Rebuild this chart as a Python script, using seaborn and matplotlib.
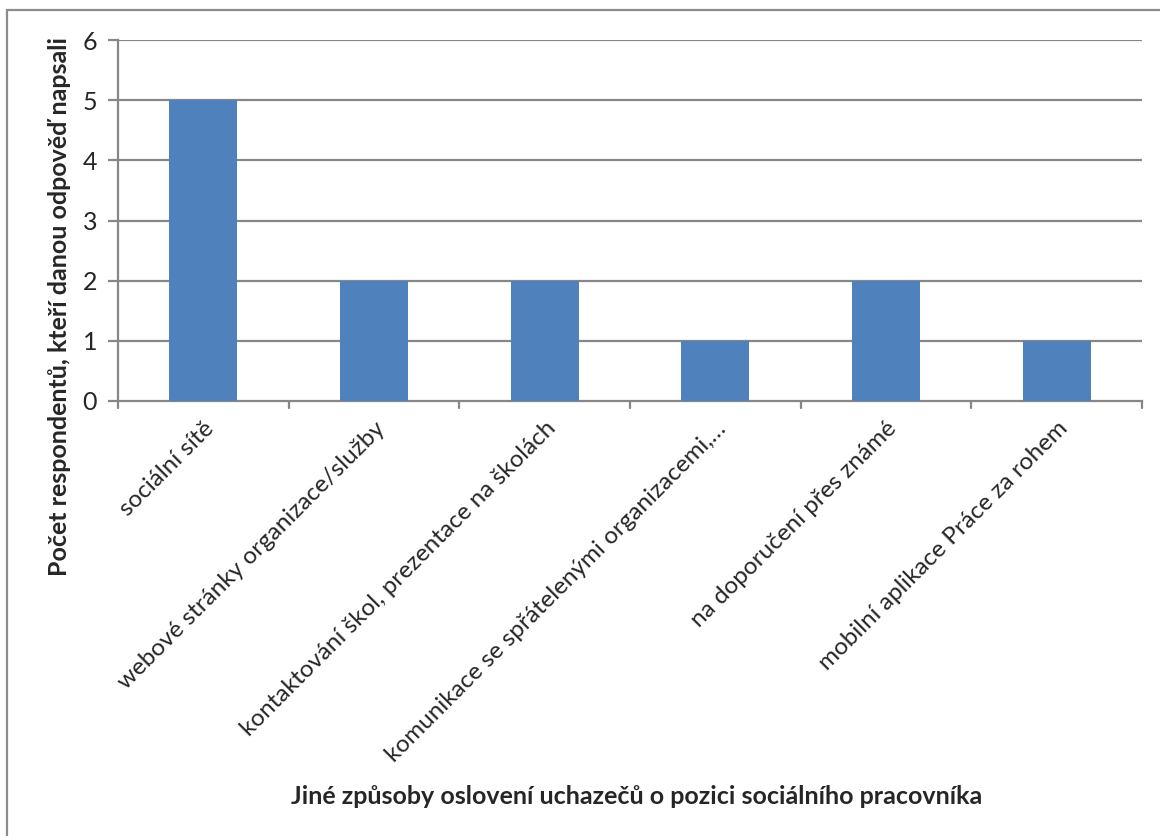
import matplotlib
matplotlib.use("Agg")
import matplotlib.pyplot as plt
from matplotlib.lines import Line2D
import seaborn as sns
import pandas as pd

categories = [
    "sociální sítě",
    "webové stránky organizace/služby",
    "kontaktování škol, prezentace na školách",
    "komunikace se spřátelenými organizacemi,…",
    "na doporučení přes známé",
    "mobilní aplikace Práce za rohem",
]
counts = [5, 2, 2, 1, 2, 1]
y_ticks = [0, 1, 2, 3, 4, 5, 6]

x_title = "Jiné způsoby oslovení uchazečů o pozici sociálního pracovníka"
y_title = "Počet respondentů, kteří danou odpověď napsali"

sns.set_style("white")
plt.rcParams["font.family"] = ["Lato", "DejaVu Sans"]

df = pd.DataFrame({"cat": categories, "n": counts})

W, H = 1160, 836
fig = plt.figure(figsize=(W / 100, H / 100), dpi=100)
ax = fig.add_axes([118 / W, 1 - 401 / H, (1142 - 118) / W, (401 - 40) / H])

grid_c = "#878787"
sns.barplot(data=df, x="cat", y="n", color="#4F81BD", saturation=1,
            width=0.4, linewidth=0, ax=ax, zorder=3)

ax.set_ylim(0, 6)
ax.set_xlim(-0.5, len(categories) - 0.5)
ax.set_yticks(y_ticks)
ax.set_yticklabels([str(v) for v in y_ticks], fontsize=18)
for v in y_ticks[1:]:
    ax.axhline(v, color=grid_c, lw=1.6, zorder=1)

# category labels at centers, boundary ticks between categories
ax.set_xticks(range(len(categories)))
ax.set_xticklabels(categories, rotation=45, ha="right", va="top",
                   rotation_mode="anchor", fontsize=17.5)
ax.tick_params(axis="x", length=0, pad=12)
ax.tick_params(axis="y", length=7, width=1.6, color=grid_c, pad=8, left=True)
for b in [i - 0.5 for i in range(len(categories) + 1)]:
    ax.plot([b, b], [0, -0.12], color=grid_c, lw=1.6, clip_on=False, zorder=4)

for s in ["top", "right"]:
    ax.spines[s].set_visible(False)
for s in ["left", "bottom"]:
    ax.spines[s].set_color(grid_c)
    ax.spines[s].set_linewidth(1.6)
ax.set_xlabel("")
ax.set_ylabel("")

fig.text(637 / W, 1 - 797 / H, x_title, ha="center", va="center",
         fontsize=18, fontweight="bold")
fig.text(60 / W, 1 - 306 / H, y_title, ha="center", va="center",
         rotation=90, fontsize=18, fontweight="bold")

# outer chart frame (top and left edges)
fig.add_artist(Line2D([7 / W, 1], [1 - 10 / H, 1 - 10 / H], color="#8c8c8c", lw=1.6))
fig.add_artist(Line2D([7 / W, 7 / W], [0, 1 - 10 / H], color="#8c8c8c", lw=1.6))

fig.savefig("out.png", dpi=100)
